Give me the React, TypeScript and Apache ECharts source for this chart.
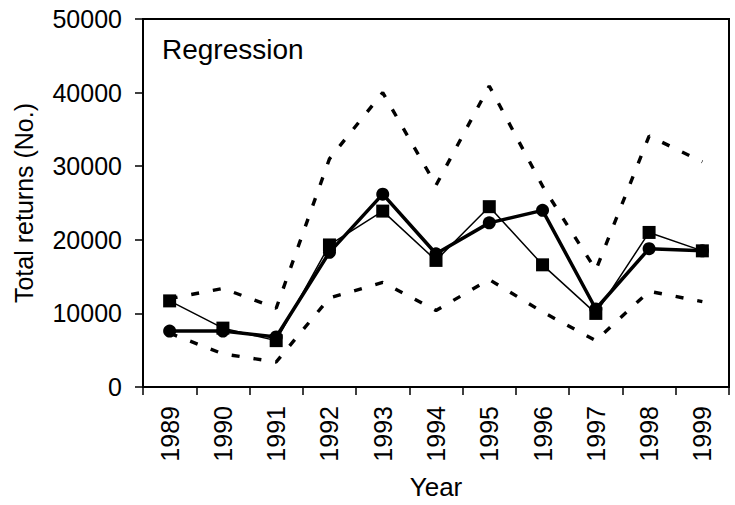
import { useEffect, useRef } from 'react';
import * as echarts from 'echarts';
import type { EChartsOption } from 'echarts';

const years = ['1989', '1990', '1991', '1992', '1993', '1994', '1995', '1996', '1997', '1998', '1999'];

// observed returns (thin line, squares)
const observed = [11700, 8000, 6300, 19300, 23900, 17200, 24500, 16600, 10000, 21000, 18500];
// regression estimate (thick line, circles)
const estimate = [7600, 7600, 6800, 18300, 26200, 18100, 22300, 24000, 10600, 18800, 18500];
// confidence bounds (dashed)
const upperBound = [12000, 13400, 10700, 31000, 40000, 27400, 40900, 27300, 15900, 34100, 30600];
const lowerBound = [7300, 4500, 3400, 12100, 14200, 10400, 14600, 10200, 6300, 13000, 11600];

const FONT = 'Liberation Sans, Arial, sans-serif';

function dashed(name: string, data: number[]) {
  return {
    name,
    type: 'line' as const,
    data,
    symbol: 'none',
    lineStyle: { color: '#000', width: 3.4, type: [8, 14] as number[] },
    z: 2
  };
}

function buildOption(): EChartsOption {
  return {
    animation: false,
    title: {
      text: 'Regression',
      left: 162,
      top: 35,
      padding: 0,
      textStyle: { fontFamily: FONT, fontSize: 28, fontWeight: 'normal', color: '#000' }
    },
    grid: {
      left: 143,
      right: 6,
      top: 19,
      bottom: 118,
      show: true,
      borderColor: '#000',
      borderWidth: 2,
      containLabel: false,
      outerBoundsMode: 'none'
    } as any,
    xAxis: {
      type: 'category',
      data: years,
      boundaryGap: true,
      name: 'Year',
      nameLocation: 'middle',
      nameGap: 87,
      nameTextStyle: { fontFamily: FONT, fontSize: 26, color: '#000' },
      axisLine: { lineStyle: { color: '#000', width: 2 } },
      axisTick: { show: true, length: 8, lineStyle: { color: '#000', width: 1.5 } },
      axisLabel: { rotate: 90, margin: 19, fontFamily: FONT, fontSize: 25, color: '#000' },
      splitLine: { show: false }
    },
    yAxis: {
      type: 'value',
      min: 0,
      max: 50000,
      interval: 10000,
      name: 'Total returns (No.)',
      nameLocation: 'middle',
      nameGap: 107,
      nameTextStyle: { fontFamily: FONT, fontSize: 25, color: '#000' },
      axisLine: { show: true, lineStyle: { color: '#000', width: 2 } },
      axisTick: { show: true, length: 8, lineStyle: { color: '#000', width: 1.5 } },
      axisLabel: {
        margin: 21,
        fontFamily: FONT,
        fontSize: 25,
        color: '#000',
        formatter: (value: number) => String(value)
      },
      splitLine: { show: false }
    },
    series: [
      dashed('Upper', upperBound),
      dashed('Lower', lowerBound),
      {
        name: 'Regression',
        type: 'line',
        data: estimate,
        symbol: 'circle',
        symbolSize: 13,
        itemStyle: { color: '#000' },
        lineStyle: { color: '#000', width: 3.5 },
        z: 3
      },
      {
        name: 'Observed',
        type: 'line',
        data: observed,
        symbol: 'rect',
        symbolSize: 13,
        itemStyle: { color: '#000' },
        lineStyle: { color: '#000', width: 1.5 },
        z: 4
      }
    ]
  };
}

export default function App() {
  const ref = useRef<HTMLDivElement | null>(null);

  useEffect(() => {
    if (!ref.current) return undefined;
    const chart = echarts.init(ref.current, undefined, { renderer: 'svg' });
    chart.setOption(buildOption());
    return () => chart.dispose();
  }, []);

  return (
    <div
      ref={ref}
      style={{ position: 'fixed', left: 0, top: 0, width: 735, height: 505, background: '#fff' }}
    />
  );
}
